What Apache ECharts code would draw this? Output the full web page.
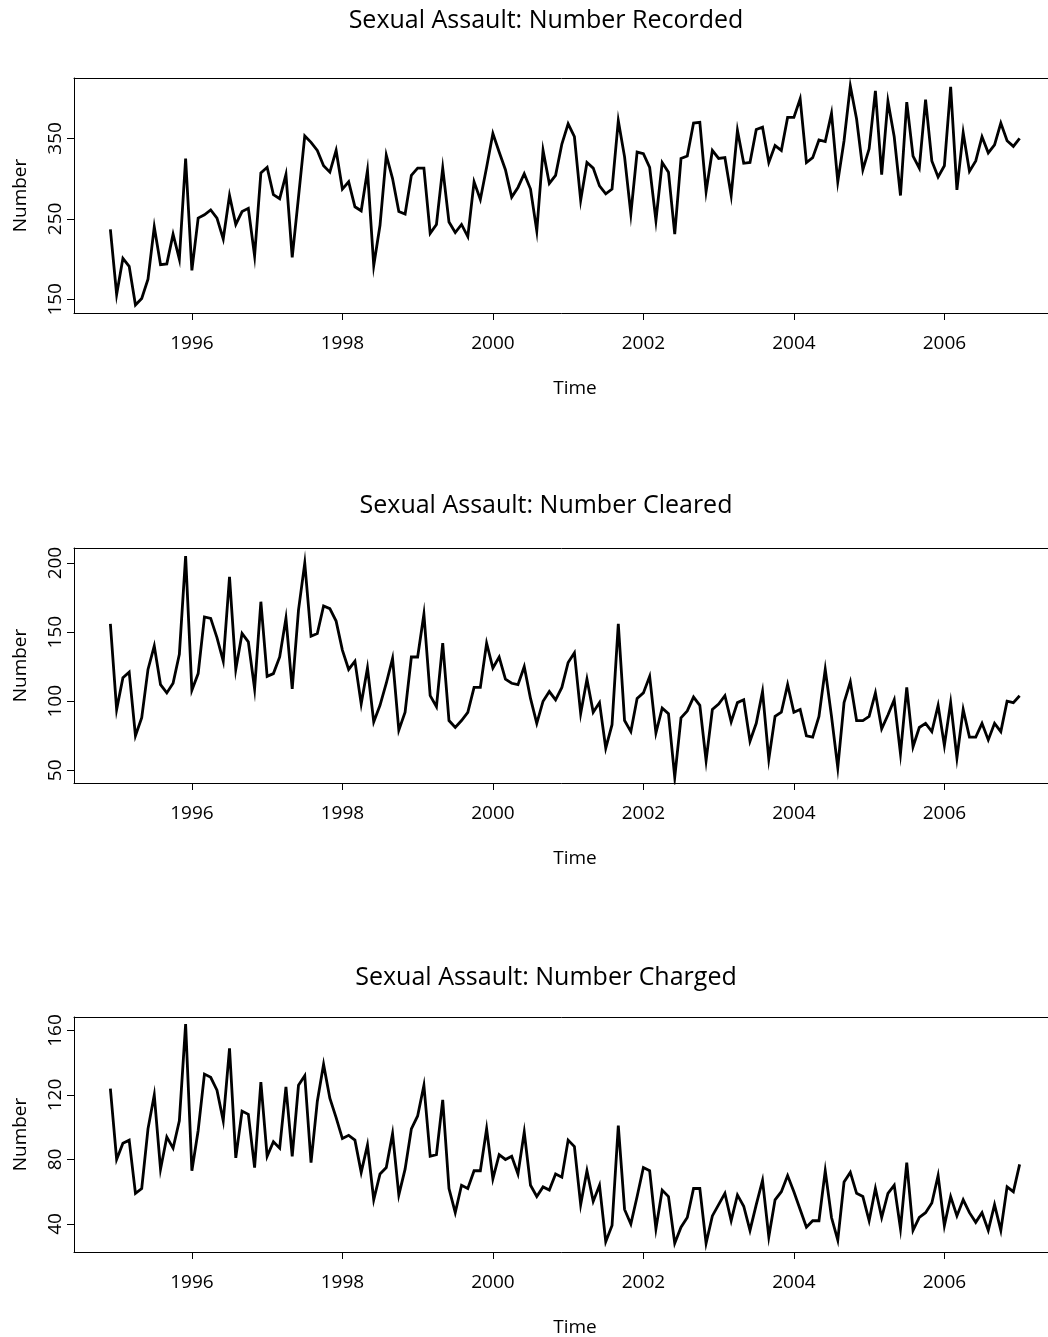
<!DOCTYPE html>
<html><head><meta charset="utf-8">
<script src="https://cdn.jsdelivr.net/npm/echarts@6/dist/echarts.min.js"></script>
<style>html,body{margin:0;padding:0;background:#fff}#c{width:1048px;height:1337px}</style>
</head><body><div id="c"></div>
<script>
// Monthly series, first observation at 1994 + 11/12
const startYear = 1994;
const startMonth = 12;
const recorded = [237,156,201,191,143,151,175,240,193,194,231,200,325,186,251,255,261,251,225,279,243,259,263,204,307,314,280,275,305,202,277,353,345,335,316,308,
  335,287,296,265,260,310,192,242,329,300,259,256,304,313,313,232,243,313,246,233,243,228,296,274,314,356,333,311,277,289,306,287,235,335,294,304,343,368,
  352,273,320,313,291,281,287,372,327,256,333,331,314,248,320,308,231,325,328,369,370,284,335,325,326,279,360,319,320,361,364,320,341,335,376,376,399,320,
  326,348,346,381,296,347,415,374,311,337,409,305,396,352,279,395,328,313,398,322,302,316,414,286,357,309,322,352,332,342,369,347,340,350];
const cleared = [156,94,117,121,75,88,123,140,112,106,113,134,205,108,120,161,160,146,129,190,123,149,143,109,172,118,120,132,160,109,166,200,147,149,169,167,
  158,137,123,129,98,124,85,97,113,131,79,92,132,132,163,104,96,142,86,81,86,92,110,110,142,124,132,116,113,112,125,102,84,100,107,101,110,128,
  135,91,116,92,99,66,83,156,86,78,102,106,118,77,95,91,45,88,93,103,97,57,94,98,104,85,99,101,71,84,107,58,89,92,112,92,94,75,
  74,89,123,89,52,99,114,86,86,89,106,80,90,101,62,110,67,81,84,78,97,68,99,59,94,74,74,84,72,84,78,100,99,104];
const charged = [124,80,90,92,59,62,99,120,74,94,87,104,164,73,98,133,131,123,104,149,81,110,108,75,128,82,91,87,125,82,126,132,78,116,139,118,
  106,93,95,92,72,89,55,71,75,96,58,74,99,107,126,82,83,117,62,47,64,62,73,73,99,68,83,80,82,71,97,64,57,63,61,71,69,92,
  88,52,73,54,64,29,39,101,49,40,57,75,73,37,61,57,28,38,44,62,62,28,45,52,59,42,58,51,36,52,67,32,55,60,70,60,49,38,
  42,42,73,44,30,66,72,59,57,42,62,44,59,64,37,78,36,44,47,53,70,39,57,45,55,47,41,47,36,52,36,63,60,77];
const xTickLabels = [1996,1998,2000,2002,2004,2006];
const yTicksRecorded = [150,250,350];
const yTicksCleared = [50,100,150,200];
const yTicksCharged = [40,80,120,160];
const titles = ['Sexual Assault: Number Recorded','Sexual Assault: Number Cleared','Sexual Assault: Number Charged'];

const FONT = '"Open Sans"';
const t0 = startYear + (startMonth - 1) / 12;
function toSeries(vals){ return vals.map((v,i)=>[t0 + i/12, v]); }
const nT = recorded.length - 1;
const tEnd = t0 + nT/12;
const pad = 0.04 * (tEnd - t0);

const panels = [
  {vals: recorded, ticks: yTicksRecorded, ymin: 133, ymax: 425, top: 78, height: 235, titleTop: 3},
  {vals: cleared, ticks: yTicksCleared, ymin: 40.8, ymax: 210.9, top: 548, height: 235, titleTop: 488},
  {vals: charged, ticks: yTicksCharged, ymin: 22.6, ymax: 168.4, top: 1017, height: 235, titleTop: 960}
];
const axisLineStyle = {color: '#000', width: 1};

const xAxes = [];
panels.forEach((p,i)=>{
  xAxes.push({type: 'value', gridIndex: i, position: 'bottom', min: t0 - pad, max: tEnd + pad,
    axisLine: {show: true, lineStyle: axisLineStyle}, splitLine: {show: false},
    axisTick: {show: true, customValues: xTickLabels, length: 7, lineStyle: {color: '#000'}},
    axisLabel: {customValues: xTickLabels, formatter: v => String(v), margin: 21, fontSize: 19, color: '#000', fontFamily: FONT},
    name: 'Time', nameLocation: 'middle', nameGap: 66,
    nameTextStyle: {fontSize: 19, color: '#000', fontFamily: FONT, padding: [0,0,0,20]}});
  xAxes.push({type: 'value', gridIndex: i, position: 'top', min: t0 - pad, max: tEnd + pad,
    axisLine: {show: true, lineStyle: axisLineStyle}, splitLine: {show: false},
    axisTick: {show: false}, axisLabel: {show: false}});
});

const option = {
  animation: false,
  backgroundColor: '#fff',
  title: panels.map((p,i)=>({text: titles[i], left: 541, top: p.titleTop, textAlign: 'center',
    textStyle: {fontSize: 25, fontWeight: 'normal', color: '#000', fontFamily: FONT}})),
  grid: panels.map(p=>({left: 74, top: p.top, width: 982, height: p.height, show: false,
    outerBoundsMode: 'none', containLabel: false})),
  xAxis: xAxes,
  yAxis: panels.map((p,i)=>({type: 'value', gridIndex: i, min: p.ymin, max: p.ymax,
    axisLine: {show: true, lineStyle: axisLineStyle}, splitLine: {show: false},
    axisTick: {show: true, customValues: p.ticks, length: 7, lineStyle: {color: '#000'}},
    axisLabel: {customValues: p.ticks, rotate: 90, margin: 9, fontSize: 19, color: '#000', fontFamily: FONT},
    name: 'Number', nameLocation: 'middle', nameGap: 44,
    nameTextStyle: {fontSize: 19, color: '#000', fontFamily: FONT}})),
  series: panels.map((p,i)=>({type: 'line', xAxisIndex: i*2, yAxisIndex: i, data: toSeries(p.vals),
    symbol: 'none', showSymbol: false, silent: true,
    lineStyle: {color: '#000', width: 2.8, join: 'miter'}}))
};
const chart = echarts.init(document.getElementById('c'), null, {renderer: 'canvas'});
chart.setOption(option);
</script>
</body></html>
